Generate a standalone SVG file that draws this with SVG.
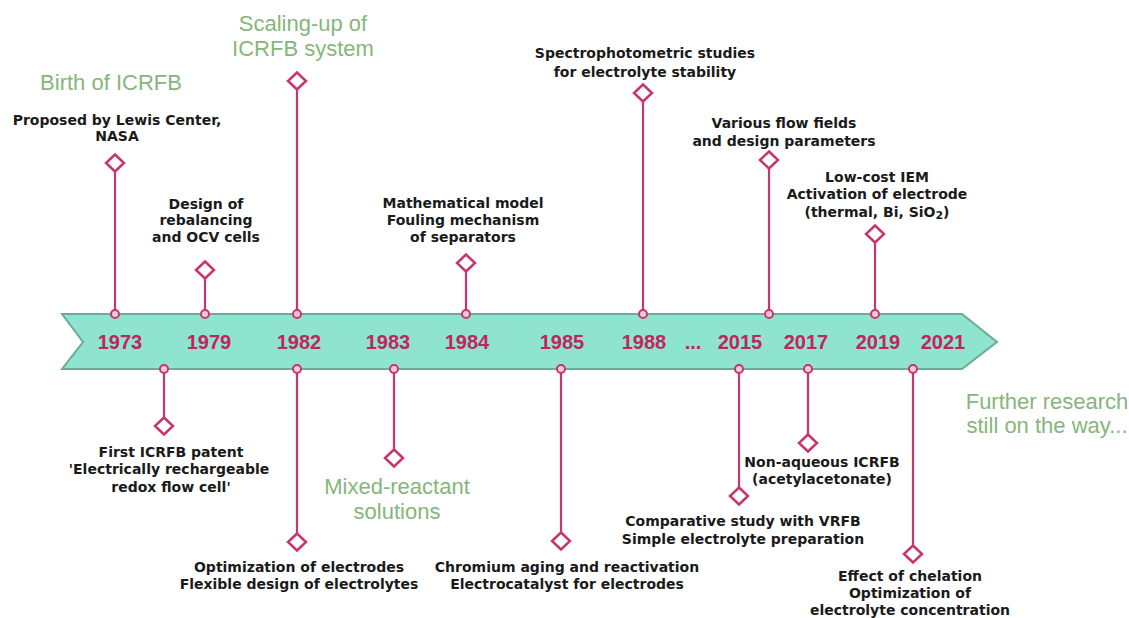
<svg xmlns="http://www.w3.org/2000/svg" width="1129" height="618" viewBox="0 0 1129 618">
<style>
.bg{fill:#ffffff}
.ribbon{fill:#8ee4cf;stroke:#6daa96;stroke-width:2}
.yr{font-family:"Liberation Sans",Arial,sans-serif;font-weight:bold;font-size:20px;fill:#c2245e;text-anchor:middle}
.lbl{font-family:"DejaVu Sans","Liberation Sans",Arial,sans-serif;font-weight:bold;font-size:14px;fill:#1a1a1a;text-anchor:middle}
.grn{font-family:"Liberation Sans",Arial,sans-serif;font-size:22px;fill:#85b67a;text-anchor:middle}
.stem{stroke:#c8346c;stroke-width:2.2;fill:none}
.dot{fill:#f4c9d8;stroke:#c8346c;stroke-width:2}
.dia{fill:#ffffff;stroke:#c8346c;stroke-width:2.5}
</style>
<defs>
<polygon id="dm" points="0,-8.5 9,0 0,8.5 -9,0"/>
</defs>
<rect class="bg" x="0" y="0" width="1129" height="618"/>

<g id="timeline">
<polygon class="ribbon" points="62,314 962,314 997,342 962,369 62,369 83,342"/>
<text class="yr" x="120" y="349">1973</text>
<text class="yr" x="209" y="349">1979</text>
<text class="yr" x="299" y="349">1982</text>
<text class="yr" x="388" y="349">1983</text>
<text class="yr" x="467" y="349">1984</text>
<text class="yr" x="562" y="349">1985</text>
<text class="yr" x="644" y="349">1988</text>
<text class="yr" x="693" y="349">...</text>
<text class="yr" x="740" y="349">2015</text>
<text class="yr" x="806" y="349">2017</text>
<text class="yr" x="878" y="349">2019</text>
<text class="yr" x="943" y="349">2021</text>
</g>

<g id="connectors">
<line class="stem" x1="115" y1="171" x2="115" y2="314"/>
<line class="stem" x1="205" y1="278" x2="205" y2="314"/>
<line class="stem" x1="297" y1="89" x2="297" y2="314"/>
<line class="stem" x1="466" y1="271" x2="466" y2="314"/>
<line class="stem" x1="643" y1="101" x2="643" y2="314"/>
<line class="stem" x1="769" y1="168" x2="769" y2="314"/>
<line class="stem" x1="875" y1="242" x2="875" y2="314"/>
<line class="stem" x1="164" y1="369" x2="164" y2="418"/>
<line class="stem" x1="297" y1="369" x2="297" y2="534"/>
<line class="stem" x1="394" y1="369" x2="394" y2="450"/>
<line class="stem" x1="561" y1="369" x2="561" y2="533"/>
<line class="stem" x1="739" y1="369" x2="739" y2="488"/>
<line class="stem" x1="808" y1="369" x2="808" y2="435"/>
<line class="stem" x1="913" y1="369" x2="913" y2="546"/>
<circle class="dot" cx="115" cy="314" r="4"/>
<circle class="dot" cx="205" cy="314" r="4"/>
<circle class="dot" cx="297" cy="314" r="4"/>
<circle class="dot" cx="466" cy="314" r="4"/>
<circle class="dot" cx="643" cy="314" r="4"/>
<circle class="dot" cx="769" cy="314" r="4"/>
<circle class="dot" cx="875" cy="314" r="4"/>
<circle class="dot" cx="164" cy="369" r="4"/>
<circle class="dot" cx="297" cy="369" r="4"/>
<circle class="dot" cx="394" cy="369" r="4"/>
<circle class="dot" cx="561" cy="369" r="4"/>
<circle class="dot" cx="739" cy="369" r="4"/>
<circle class="dot" cx="808" cy="369" r="4"/>
<circle class="dot" cx="913" cy="369" r="4"/>
</g>

<g id="e1973">
<use href="#dm" class="dia" x="115" y="163"/>
<text class="grn" x="111" y="90">Birth of ICRFB</text>
<text class="lbl" x="117" y="125">Proposed by Lewis Center,</text>
<text class="lbl" x="117" y="141">NASA</text>
</g>

<g id="e1979">
<use href="#dm" class="dia" x="205" y="270"/>
<text class="lbl" x="206" y="209">Design of</text>
<text class="lbl" x="206" y="225">rebalancing</text>
<text class="lbl" x="206" y="242">and OCV cells</text>
</g>

<g id="e1982top">
<use href="#dm" class="dia" x="297" y="81"/>
<text class="grn" x="303" y="31">Scaling-up of</text>
<text class="grn" x="303" y="56">ICRFB system</text>
</g>

<g id="e1984">
<use href="#dm" class="dia" x="466" y="263"/>
<text class="lbl" x="463" y="208">Mathematical model</text>
<text class="lbl" x="463" y="225">Fouling mechanism</text>
<text class="lbl" x="463" y="242">of separators</text>
</g>

<g id="e1988">
<use href="#dm" class="dia" x="643" y="93"/>
<text class="lbl" x="645" y="58">Spectrophotometric studies</text>
<text class="lbl" x="645" y="77">for electrolyte stability</text>
</g>

<g id="e2016">
<use href="#dm" class="dia" x="769" y="160"/>
<text class="lbl" x="784" y="128">Various flow fields</text>
<text class="lbl" x="784" y="146">and design parameters</text>
</g>

<g id="e2019">
<use href="#dm" class="dia" x="875" y="234"/>
<text class="lbl" x="877" y="182">Low-cost IEM</text>
<text class="lbl" x="877" y="199">Activation of electrode</text>
<text class="lbl" x="877" y="217">(thermal, Bi, SiO<tspan font-size="11" dy="2">2</tspan><tspan dy="-2">)</tspan></text>
</g>

<g id="e1979b">
<use href="#dm" class="dia" x="164" y="426"/>
<text class="lbl" x="171" y="457">First ICRFB patent</text>
<text class="lbl" x="169" y="474">'Electrically rechargeable</text>
<text class="lbl" x="171" y="492">redox flow cell'</text>
</g>

<g id="e1982b">
<use href="#dm" class="dia" x="297" y="542"/>
<text class="lbl" x="299" y="572">Optimization of electrodes</text>
<text class="lbl" x="299" y="589">Flexible design of electrolytes</text>
</g>

<g id="e1983">
<use href="#dm" class="dia" x="394" y="458"/>
<text class="grn" x="397" y="494">Mixed-reactant</text>
<text class="grn" x="397" y="519">solutions</text>
</g>

<g id="e1985">
<use href="#dm" class="dia" x="561" y="541"/>
<text class="lbl" x="567" y="572">Chromium aging and reactivation</text>
<text class="lbl" x="567" y="589">Electrocatalyst for electrodes</text>
</g>

<g id="e2015">
<use href="#dm" class="dia" x="739" y="496"/>
<text class="lbl" x="743" y="526">Comparative study with VRFB</text>
<text class="lbl" x="743" y="544">Simple electrolyte preparation</text>
</g>

<g id="e2017">
<use href="#dm" class="dia" x="808" y="443"/>
<text class="lbl" x="822" y="467">Non-aqueous ICRFB</text>
<text class="lbl" x="822" y="484">(acetylacetonate)</text>
</g>

<g id="e2020">
<use href="#dm" class="dia" x="913" y="554"/>
<text class="lbl" x="910" y="581">Effect of chelation</text>
<text class="lbl" x="910" y="598">Optimization of</text>
<text class="lbl" x="910" y="615">electrolyte concentration</text>
</g>

<g id="future">
<text class="grn" x="1047" y="409">Further research</text>
<text class="grn" x="1047" y="433">still on the way...</text>
</g>
</svg>
